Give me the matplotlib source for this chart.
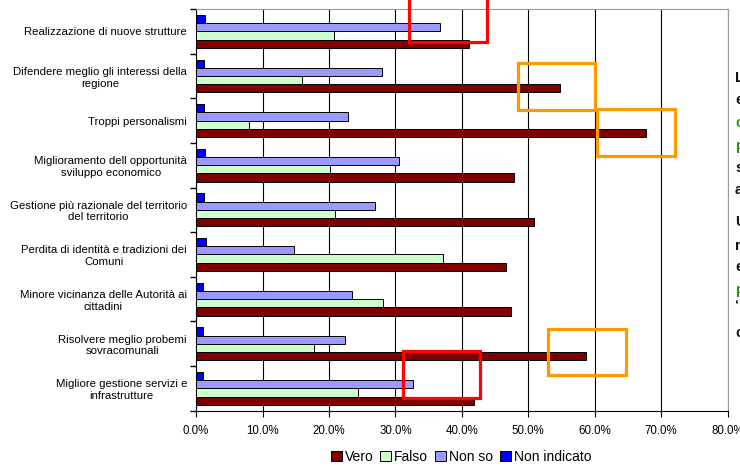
import numpy as np
import matplotlib.pyplot as plt
from matplotlib.patches import Rectangle, Patch

categories = [
    "Realizzazione di nuove strutture",
    "Difendere meglio gli interessi della\nregione",
    "Troppi personalismi",
    "Miglioramento dell opportunità\nsviluppo economico",
    "Gestione più razionale del territorio\ndel territorio",
    "Perdita di identità e tradizioni dei\nComuni",
    "Minore vicinanza delle Autorità ai\ncittadini",
    "Risolvere meglio probemi\nsovracomunali",
    "Migliore gestione servizi e\ninfrastrutture",
]
non_indicato = [1.4, 1.2, 1.2, 1.4, 1.2, 1.5, 1.1, 1.1, 1.1]
non_so = [36.7, 28.0, 22.9, 30.6, 26.9, 14.7, 23.4, 22.4, 32.6]
falso = [20.7, 16.0, 8.0, 20.2, 20.9, 37.2, 28.2, 17.8, 24.4]
vero = [41.1, 54.8, 67.8, 47.9, 50.9, 46.6, 47.4, 58.7, 41.8]

series = [
    ("Non indicato", non_indicato, "#0000ff"),
    ("Non so", non_so, "#9999ff"),
    ("Falso", falso, "#ccffcc"),
    ("Vero", vero, "#800000"),
]

# highlight boxes: (x0, x1, y0, y1, colour) in data units
boxes = [
    (32.1, 43.8, -0.9, 0.25, "#ff0000"),
    (48.4, 60.1, 0.72, 1.77, "#ff9900"),
    (60.3, 72.1, 1.74, 2.79, "#ff9900"),
    (53.0, 64.7, 6.66, 7.71, "#ff9900"),
    (31.1, 42.8, 7.17, 8.21, "#ff0000"),
]

# text on the right edge, cut off by the picture border
side_letters = [
    ("L", "#111111", 78), ("e", "#111111", 100), ("c", "#2e9a00", 123),
    ("p", "#2e9a00", 146), ("s", "#111111", 168), ("a", "#111111", 190),
    ("U", "#111111", 222), ("r", "#111111", 246), ("e", "#111111", 267),
    ("p", "#2e9a00", 290), ("\u2018", "#111111", 306), ("c", "#111111", 333),
]

plt.rcParams["font.family"] = ["Liberation Sans", "DejaVu Sans"]

fig = plt.figure(figsize=(7.4, 4.67), dpi=100)
ax = fig.add_axes([196.1 / 740, 1 - 410.7 / 467, (727.5 - 196.1) / 740, (410.7 - 9) / 467])

y = np.arange(len(categories))
h = 0.184
for k, (name, vals, col) in enumerate(series):
    ax.barh(y + (k - 1.5) * h, vals, height=h, color=col, edgecolor="black",
            linewidth=0.7, zorder=3, label=name)

ax.set_xlim(0, 80)
ax.set_ylim(len(categories) - 0.5, -0.5)
ax.set_xticks(np.arange(0, 81, 10))
ax.set_xticklabels([f"{v:.1f}%" for v in np.arange(0, 81, 10)], fontsize=8.3)
ax.set_yticks(y)
ax.set_yticklabels(categories, fontsize=8.2, ha="right", multialignment="center")
ax.tick_params(axis="y", which="major", length=0, pad=6.5)
ax.set_yticks(np.arange(-0.5, len(categories)), minor=True)
ax.tick_params(axis="y", which="minor", length=4, direction="out", width=1)
ax.tick_params(axis="x", length=4, direction="out", pad=6)
ax.grid(axis="x", color="black", linewidth=0.8, zorder=0)
ax.spines["top"].set_color("#999999")
ax.spines["right"].set_color("#999999")

for x0, x1, y0, y1, col in boxes:
    ax.add_patch(Rectangle((x0, y0), x1 - x0, y1 - y0, fill=False,
                           edgecolor=col, linewidth=2.3, zorder=5, clip_on=False))

for ch, col, py in side_letters:
    fig.text(735 / 740, 1 - py / 467, ch, color=col, fontsize=10.5,
             fontweight="bold", va="center", ha="left")

handles = [Patch(facecolor=c, edgecolor="black", linewidth=0.7, label=n)
           for n, v, c in [series[3], series[2], series[1], series[0]]]
fig.legend(handles=handles, loc="center", bbox_to_anchor=(461 / 740, 1 - 457 / 467),
           ncol=4, frameon=False, fontsize=10, handlelength=0.8, handleheight=0.8,
           handletextpad=0.2, columnspacing=0.5)

fig.savefig("out.png", dpi=100)
